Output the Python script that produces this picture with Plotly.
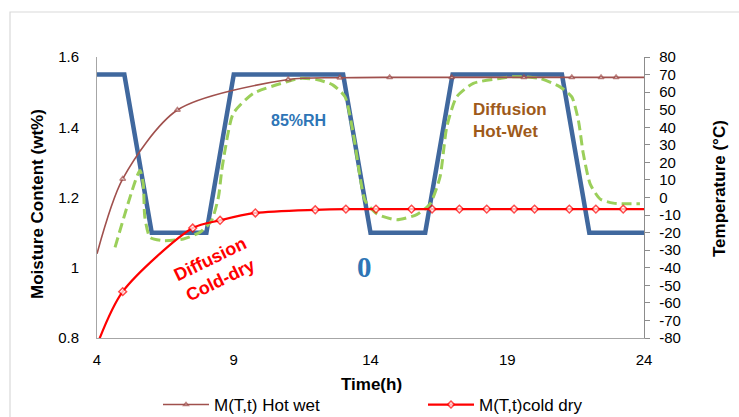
import plotly.graph_objects as go

# ---------------- data ----------------
# Chamber temperature profile (deg C)
time_chamber = [4, 5, 6, 8, 9, 13, 14, 16, 17, 21, 22, 24]
temp_chamber = [70, 70, -20, -20, 70, 70, -20, -20, 70, 70, -20, -20]

# Sample temperature response (deg C, dashed)
time_sample = [4.66, 5.57, 5.69, 5.75, 5.94, 6.42, 7.16, 7.77, 8.19, 8.44, 8.56, 8.68,
               8.98, 9.71, 10.94, 11.42, 12.03, 12.63, 13.07, 13.37, 13.62, 13.8,
               14.23, 14.96, 15.69, 16.18, 16.54, 16.79, 17.15, 17.76, 18.73, 19.22,
               20.2, 20.93, 21.36, 21.6, 21.78, 22.03, 22.39, 22.88, 23.85]
temp_sample = [-28.4, 15.4, 7.8, -11.3, -22.7, -24.6, -23.6, -19.8, -13.1, 0.2, 15.4, 26.9,
               47.8, 59.2, 65.9, 67.8, 67.2, 64.0, 57.3, 36.4, 11.6, -1.7,
               -9.3, -12.7, -9.7, -3.6, 11.6, 40.2, 57.3, 65.0, 67.8, 68.8,
               67.8, 63.0, 57.3, 44.0, 25.0, 7.8, -0.8, -3.2, -3.6]

# M(T,t) Hot wet (wt%)
time_hot = [4, 4.94, 6.94, 10.99, 12.88, 14.7, 16.97, 19.61, 21.36, 22.43, 22.98, 24]
moist_hot = [1.04, 1.253, 1.449, 1.536, 1.541, 1.542, 1.542, 1.542, 1.542, 1.542, 1.542, 1.542]
hot_marked = [False, True, True, True, True, True, True, True, True, True, True, False]

# M(T,t) cold dry (wt%)
time_cold = [4, 4.94, 7.5, 8.5, 9.79, 11.98, 13.1, 14.2, 15.5, 16.25, 17.25, 18.25,
             19.25, 20.0, 21.27, 22.24, 23.24, 24]
moist_cold = [0.78, 0.932, 1.113, 1.135, 1.156, 1.165, 1.167, 1.167, 1.167, 1.167, 1.167, 1.167,
              1.167, 1.167, 1.167, 1.167, 1.167, 1.167]
cold_marked = [False] + [True] * 16 + [False]

x_ticks = [4, 9, 14, 19, 24]
m_ticks = [0.8, 1.0, 1.2, 1.4, 1.6]
m_tick_text = ["0.8", "1", "1.2", "1.4", "1.6"]
t_ticks = list(range(-80, 81, 10))
t_tick_text = [str(v) for v in t_ticks]

# ---------------- figure ----------------
W, H = 739, 417
L, R, T, B = 97, 644, 57, 338


def px(xp):
    return (xp - L) / (R - L)


def py(yp):
    return (B - yp) / (B - T)


FONT = "Liberation Sans, Arial, sans-serif"
fig = go.Figure()

fig.add_trace(go.Scatter(
    x=time_chamber, y=temp_chamber, mode="lines", yaxis="y",
    line=dict(color="#40689E", width=4.5), showlegend=False, name="Chamber"))

fig.add_trace(go.Scatter(
    x=time_sample, y=temp_sample, mode="lines", yaxis="y",
    line=dict(color="#9BCF5A", width=3, dash="10px,5px", shape="spline", smoothing=0.6),
    showlegend=False, name="Sample"))

fig.add_trace(go.Scatter(
    x=time_hot, y=moist_hot, mode="lines+markers", yaxis="y2",
    name="M(T,t) Hot wet",
    line=dict(color="#A0504D", width=1.6, shape="spline", smoothing=0.8),
    marker=dict(symbol="triangle-up", size=[5 if f else 0 for f in hot_marked],
                color="white", line=dict(color="#A0504D", width=1.5))))

fig.add_trace(go.Scatter(
    x=time_cold, y=moist_cold, mode="lines+markers", yaxis="y2",
    name="M(T,t)cold dry",
    line=dict(color="#FF0000", width=2.2, shape="spline", smoothing=0.8),
    marker=dict(symbol="diamond", size=[6 if f else 0 for f in cold_marked],
                color="white", line=dict(color="#FF0000", width=1.5))))

fig.update_layout(
    width=W, height=H,
    margin=dict(l=L, r=W - R, t=T, b=H - B, autoexpand=False),
    paper_bgcolor="white", plot_bgcolor="white",
    font=dict(family=FONT, color="#000000", size=15),
    xaxis=dict(range=[4, 24], tickvals=x_ticks, showgrid=False, zeroline=False,
               showline=True, linecolor="#A6A6A6", linewidth=1, ticks="",
               ticklabelstandoff=8, tickfont=dict(size=15), automargin=False),
    yaxis=dict(range=[-80, 80], side="right", tickvals=t_ticks, ticktext=t_tick_text,
               showgrid=False, zeroline=False, showline=True, linecolor="#8C8C8C",
               linewidth=1.3, ticks="outside", ticklen=5, tickcolor="#8C8C8C",
               ticklabelstandoff=6, tickfont=dict(size=15), automargin=False),
    yaxis2=dict(range=[0.8, 1.6], side="left", overlaying="y", tickvals=m_ticks,
                ticktext=m_tick_text, showgrid=False, zeroline=False, showline=True,
                linecolor="#A6A6A6", linewidth=1, ticks="", ticklabelstandoff=14,
                tickfont=dict(size=15), automargin=False),
    legend=dict(orientation="h", x=px(158), y=py(405), xanchor="left", yanchor="middle",
                font=dict(size=17, family=FONT), itemwidth=46, entrywidth=204,
                bgcolor="rgba(0,0,0,0)", tracegroupgap=0),
    shapes=[dict(type="rect", xref="paper", yref="paper",
                 x0=px(10), x1=px(760), y0=py(440), y1=py(12),
                 line=dict(color="#D9D9D9", width=1.2), fillcolor="rgba(0,0,0,0)",
                 layer="below")],
)

ann = [
    dict(text="<b>Moisture Content (wt%)</b>", x=px(37), y=py(204), textangle=-90,
         font=dict(size=17)),
    dict(text="<b>Temperature (°C)</b>", x=px(719), y=py(189), textangle=-90,
         font=dict(size=17)),
    dict(text="<b>Time(h)</b>", x=px(371), y=py(384), font=dict(size=17)),
    dict(text="<b>85%RH</b>", x=px(298), y=py(120), font=dict(size=16, color="#2E75B6")),
    dict(text="<b>0</b>", x=px(364), y=py(267),
         font=dict(size=29, color="#2E75B6", family="Liberation Serif, Times New Roman, serif")),
    dict(text="<b>Diffusion<br>Hot-Wet</b>", x=px(471), y=py(120), xanchor="left",
         align="left", font=dict(size=17, color="#9E5A1A")),
    dict(text="<b>Diffusion<br>Cold-dry</b>", x=px(215), y=py(269), textangle=-26,
         font=dict(size=18, color="#FF0000")),
]
for a in ann:
    a.setdefault("xanchor", "center")
    a.update(xref="paper", yref="paper", showarrow=False, yanchor="middle")
    fig.add_annotation(**a)

fig.write_html(
    "out.html",
    config={"displayModeBar": False},
    post_script="document.body.style.margin='0';document.body.style.overflow='hidden';",
)
